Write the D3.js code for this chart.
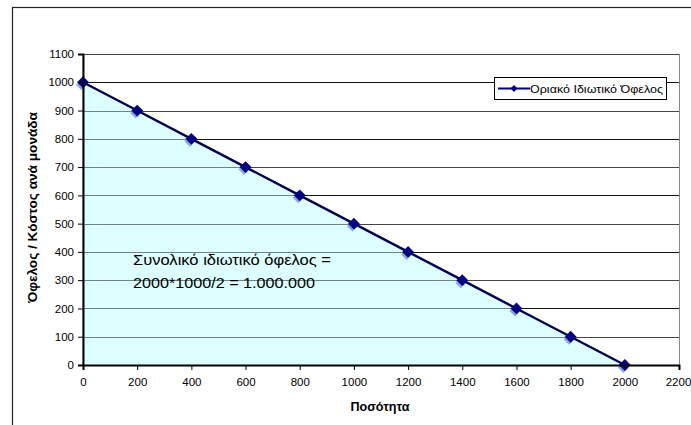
<!DOCTYPE html>
<html><head><meta charset="utf-8">
<script src="https://cdn.jsdelivr.net/npm/d3@7"></script>
<style>body{margin:0;background:#fff}svg{display:block;font-family:"Liberation Sans",Arial,sans-serif}</style>
</head><body><svg id="c" width="691" height="425"></svg>
<script>
const quantities = [0,200,400,600,800,1000,1200,1400,1600,1800,2000];
const benefit = [1000,900,800,700,600,500,400,300,200,100,0];
const xTicks = [0,200,400,600,800,1000,1200,1400,1600,1800,2000,2200];
const yTicks = [0,100,200,300,400,500,600,700,800,900,1000,1100];
const seriesName = "Οριακό Ιδιωτικό Όφελος";
const xTitle = "Ποσότητα";
const yTitle = "Όφελος / Κόστος ανά μονάδα";
const annotation = ["Συνολικό ιδιωτικό όφελος =", "2000*1000/2 = 1.000.000"];

const svg = d3.select("#c");
const L=83, R=679, T=54, B=365;
const x = d3.scaleLinear().domain([0,2200]).range([L,R]);
const y = d3.scaleLinear().domain([0,1100]).range([B,T]);
const data = quantities.map((q,i)=>({q, v: benefit[i]}));

// outer frame
svg.append("rect").attr("x",12.5).attr("y",7.5).attr("width",700).attr("height",450)
  .attr("fill","none").attr("stroke","#222").attr("stroke-width",1.2);

// plot border
svg.append("rect").attr("x",L).attr("y",T+0.5).attr("width",R-L+0.5).attr("height",B-T)
  .attr("fill","none").attr("stroke","#888");

// gridlines
svg.append("g").selectAll("line").data(yTicks.filter(d=>d>0)).join("line")
  .attr("x1",L).attr("x2",R).attr("y1",d=>Math.round(y(d))+0.5).attr("y2",d=>Math.round(y(d))+0.5)
  .attr("stroke",(d,i)=>i%2? "#111":"#444").attr("stroke-width",1);

// area
svg.append("path").datum(data)
  .attr("d", d3.area().x(d=>x(d.q)).y0(y(0)).y1(d=>y(d.v)))
  .attr("fill","#DDFFFF");
// gridlines seen through the area
svg.append("g").selectAll("line").data(yTicks.filter(d=>d>0 && d<1000)).join("line")
  .attr("x1",L).attr("x2",d=>x(2000-2*d)).attr("y1",d=>Math.round(y(d))+0.5).attr("y2",d=>Math.round(y(d))+0.5)
  .attr("stroke","#6f8585").attr("stroke-width",1);

const dia = s => d3.symbol().type(d3.symbolSquare).size(s)();

// light diamonds (shadow series)
svg.append("g").selectAll("path").data(data).join("path")
  .attr("d", dia(60)).attr("transform",d=>`translate(${x(d.q)-1.5},${y(d.v)+2.5}) rotate(45)`)
  .attr("fill","#8aa8dc");

// line
svg.append("path").datum(data)
  .attr("d", d3.line().x(d=>x(d.q)).y(d=>y(d.v)))
  .attr("fill","none").attr("stroke","#000050").attr("stroke-width",2.4);

// markers
svg.append("g").selectAll("path").data(data).join("path")
  .attr("d", dia(70)).attr("transform",d=>`translate(${x(d.q)},${y(d.v)}) rotate(45)`)
  .attr("fill","#000080");

// axes
const xa = svg.append("g").attr("transform",`translate(0,${B})`)
  .call(d3.axisBottom(x).tickValues(xTicks).tickFormat(d3.format("d")).tickSize(5).tickPadding(8));
const ya = svg.append("g").attr("transform",`translate(${L},0)`)
  .call(d3.axisLeft(y).tickValues(yTicks).tickFormat(d3.format("d")).tickSize(5).tickPadding(4));
[xa,ya].forEach(g=>{
  g.select(".domain").attr("stroke","#000").attr("stroke-width",2);
  g.selectAll(".tick line").attr("stroke","#000");
  g.selectAll("text").attr("font-size",11.5).attr("fill","#000").attr("font-family","Liberation Sans, Arial, sans-serif");
});
xa.selectAll(".tick text").attr("dx",d=>d===2200?-1:0);

// axis titles
svg.append("text").attr("x",380).attr("y",411).attr("text-anchor","middle")
  .attr("font-size",12).attr("font-weight","bold")
  .attr("textLength",59).attr("lengthAdjust","spacingAndGlyphs").text(xTitle);
svg.append("text").attr("transform","translate(37,207.5) rotate(-90)").attr("text-anchor","middle")
  .attr("font-size",12).attr("font-weight","bold")
  .attr("textLength",191).attr("lengthAdjust","spacingAndGlyphs").text(yTitle);

// annotation
const annW = [198,182];
svg.append("g").selectAll("text").data(annotation).join("text")
  .attr("x",133).attr("y",(d,i)=>265+i*22.5).attr("font-size",15.5).attr("fill","#000")
  .attr("textLength",(d,i)=>annW[i]).attr("lengthAdjust","spacingAndGlyphs").text(d=>d);

// legend
const lg = svg.append("g").attr("transform","translate(494,77)");
lg.append("rect").attr("x",0.5).attr("y",0.5).attr("width",172).attr("height",22)
  .attr("fill","#fff").attr("stroke","#000");
lg.append("line").attr("x1",4).attr("x2",36).attr("y1",11.5).attr("y2",11.5).attr("stroke","#000080").attr("stroke-width",2);
lg.append("path").attr("d",dia(24)).attr("transform","translate(20,11.5) rotate(45)").attr("fill","#000080");
lg.append("text").attr("x",36).attr("y",15.5).attr("font-size",11.5)
  .attr("textLength",133).attr("lengthAdjust","spacingAndGlyphs").text(seriesName);
</script></body></html>
